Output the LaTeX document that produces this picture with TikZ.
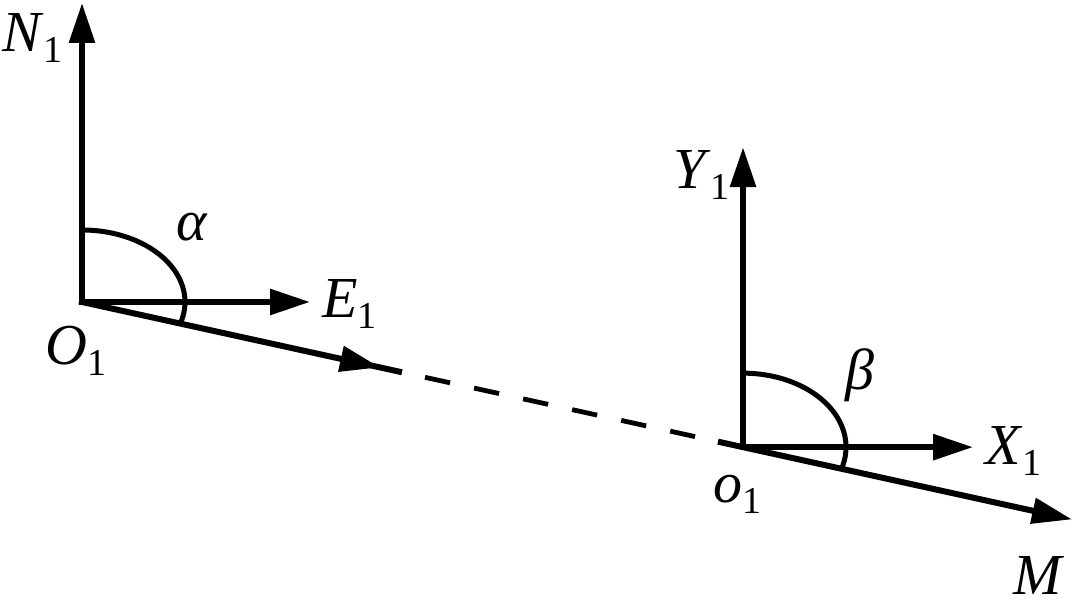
\documentclass[tikz,border=0pt]{standalone}
\usepackage{fontspec}
\setmainfont{Liberation Serif}
\usetikzlibrary{arrows.meta, calc}
\newcommand{\sublab}[2]{\textit{#1}\raisebox{-5.5pt}{\fontsize{19}{19}\selectfont #2}}

\begin{document}
\begin{tikzpicture}
    [
		x=0.5pt, y=0.5pt,
		axis/.style={
			line width=3pt, line cap=rect, -{Triangle[length=20pt, width=12.5pt]}
		},
		plainline/.style={
			line width=3pt
		},
		dashline/.style={
			line width=2.4pt, dash pattern=on 12.8pt off 12.3pt
		},
		arcline/.style={
			line width=2.5pt
		},
		lab/.style={
			inner sep=0pt, font=\fontsize{29}{35}\selectfont
		}
	]
\useasboundingbox (0,0) rectangle (1074,613);

% Points
\coordinate (O1) at (82,311);
\coordinate (M) at (1072,93.6);
\coordinate (o1) at ($(O1)!0.6677!(M)$);
\coordinate (N1tip) at ($(O1)+(0,299)$);
\coordinate (E1tip) at ($(O1)+(228,0)$);
\coordinate (Y1tip) at ($(o1)+(0,300)$);
\coordinate (X1tip) at ($(o1)+(230,0)$);
\coordinate (midtip) at ($(O1)!0.301!(M)$);

% Labels
\node (N1) [lab, anchor=base west] at (2,561) {\sublab{N}{1}};
\node (E1) [lab, anchor=base west] at (322,295) {\sublab{E}{1}};
\node (O1lab) [lab, anchor=base west] at (45,248) {\sublab{O}{1}};
\node (alpha) [lab] at (192,386) {\textit{α}};
\node (Y1) [lab, anchor=base west] at (673,424) {\sublab{Y}{1}};
\node (X1) [lab, anchor=base west] at (985,148) {\sublab{X}{1}};
\node (beta) [lab] at (860,238) {\textit{β}};
\node (o1lab) [lab, anchor=base west] at (713,110) {\sublab{o}{1}};
\node (Mlab) [lab, anchor=base west] at (1013,18) {\textit{M}};

% Axes
\draw [axis] (O1) -- (N1tip);
\draw [axis] (O1) -- (E1tip);
\draw [axis] (o1) -- (Y1tip);
\draw [axis] (o1) -- (X1tip);

% Course line
\draw [axis] (O1) -- (midtip);
\draw [plainline] ($(O1)!0.29!(M)$) -- ($(O1)!0.3232!(M)$);
\draw [dashline] ($(O1)!0.3465!(M)$) -- ($(O1)!0.6192!(M)$);
\draw [axis, line cap=butt] ($(O1)!0.6424!(M)$) -- (M);

% Angles
\draw [arcline] ($(O1)+(0,72)$) arc[start angle=90, end angle=-17,
	x radius=51.5pt, y radius=36pt];
\draw [arcline] ($(o1)+(0,74)$) arc[start angle=90, end angle=-17,
	x radius=51.5pt, y radius=37pt];

\end{tikzpicture}
\end{document}
